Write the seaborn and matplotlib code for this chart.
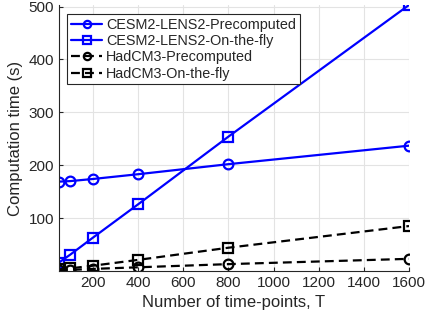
import pandas as pd
import seaborn as sns
import matplotlib.pyplot as plt

T = [50, 100, 200, 400, 800, 1600]
cesm_pre = [169, 170, 174, 183, 202, 237]
cesm_fly = [16, 31, 63, 126, 254, 503]
had_pre = [1, 2, 4, 7, 13, 23]
had_fly = [3, 5, 10, 21, 44, 85]

names = ["CESM2-LENS2-Precomputed", "CESM2-LENS2-On-the-fly",
         "HadCM3-Precomputed", "HadCM3-On-the-fly"]
series = [cesm_pre, cesm_fly, had_pre, had_fly]

rows = []
for name, vals in zip(names, series):
    for t, v in zip(T, vals):
        rows.append({"T": t, "time": v, "run": name})
df = pd.DataFrame(rows)

sns.set_style("whitegrid")
plt.rcParams['font.family'] = ['Liberation Sans', 'DejaVu Sans']

fig = plt.figure(figsize=(4.27, 3.23), dpi=100)
ax = fig.add_axes([59 / 427, 1 - 271 / 323, 350 / 427, 266 / 323])

dash = (0, (4, 2.3))
styles = {
    names[0]: ("#0000ff", "-", "o"),
    names[1]: ("#0000ff", "-", "s"),
    names[2]: ("black", dash, "o"),
    names[3]: ("black", dash, "s"),
}
for name in names:
    c, ls, m = styles[name]
    sns.lineplot(data=df[df["run"] == name], x="T", y="time", ax=ax,
                 color=c, linestyle=ls, marker=m, markersize=7,
                 markerfacecolor="none", markeredgecolor=c, markeredgewidth=1.6,
                 linewidth=1.6, label=name)

ax.set_xlim(50, 1600)
ax.set_ylim(0, 503)
ax.set_xticks([200, 400, 600, 800, 1000, 1200, 1400, 1600])
ax.set_yticks([100, 200, 300, 400, 500])
ax.set_xlabel("Number of time-points, T", fontsize=12, color="#262626")
ax.set_ylabel("Computation time (s)", fontsize=12, color="#262626")
ax.tick_params(labelsize=11, colors="#262626", length=3, direction="in", left=True, bottom=True)
ax.grid(True, color="#e3e3e3", linewidth=0.8)
for s in ["top", "right"]:
    ax.spines[s].set_visible(False)
for s in ["left", "bottom"]:
    ax.spines[s].set_color("#262626")
    ax.spines[s].set_linewidth(0.8)

leg = ax.legend(loc="upper left", bbox_to_anchor=(0.023, 0.966), fontsize=10.4,
                frameon=True, fancybox=False, framealpha=1, edgecolor="#262626",
                handlelength=2.2, handletextpad=0.25, borderpad=0.25, labelspacing=0.16,
                borderaxespad=0, markerscale=0.75)
leg.get_frame().set_linewidth(0.8)

fig.savefig("out.png", dpi=100)
